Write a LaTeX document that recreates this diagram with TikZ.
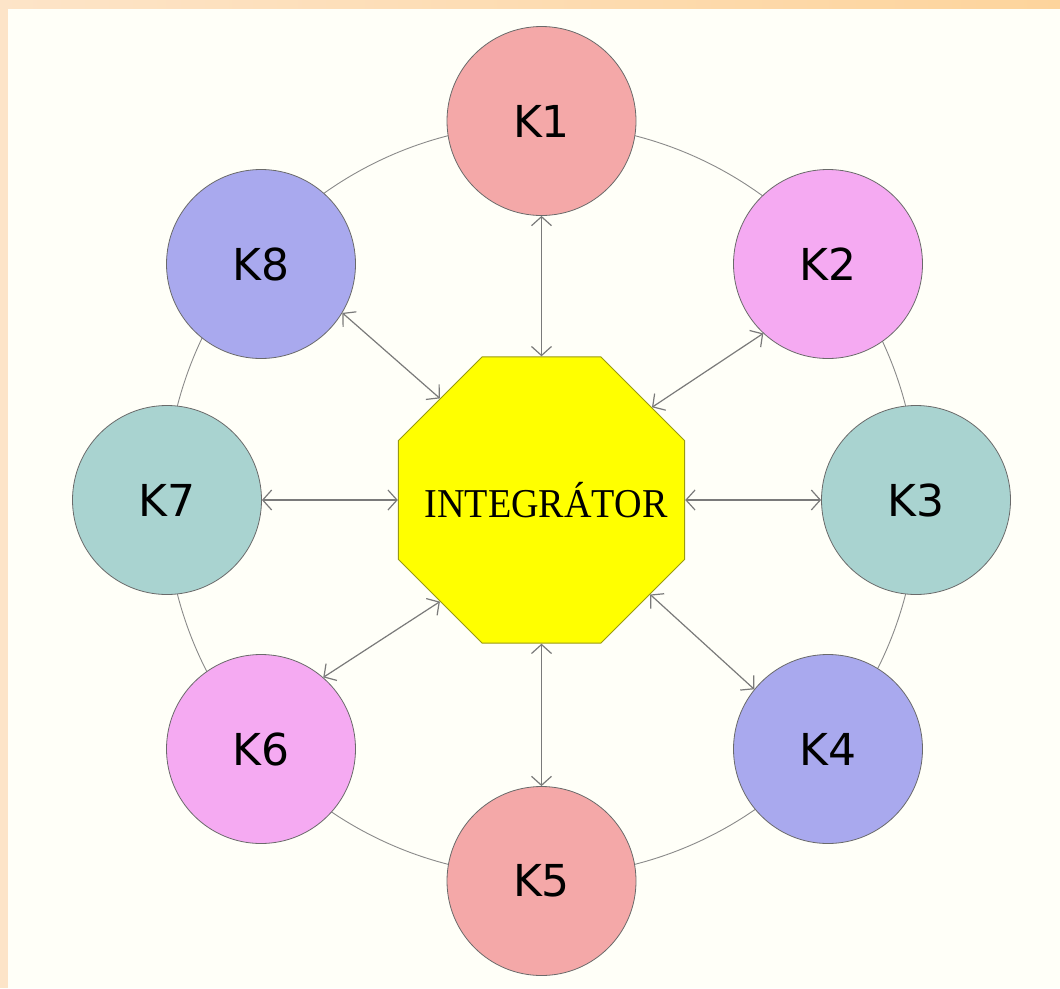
\documentclass[tikz,border=0pt]{standalone}
\usepackage{graphicx}
\usepackage{fontspec}
\setmainfont{DejaVu Sans}
\newfontfamily\kfont{DejaVu Sans}
\newfontfamily\intfont{Liberation Serif}
\usetikzlibrary{shapes.geometric,arrows.meta}
\definecolor{bgwhite}{HTML}{FFFFF8}
\definecolor{peachA}{HTML}{FDE4C8}
\definecolor{peachB}{HTML}{FDD49C}
\definecolor{kpink}{HTML}{F4A8A8}
\definecolor{kviolet}{HTML}{F5AAF2}
\definecolor{kteal}{HTML}{A9D3D0}
\definecolor{kblue}{HTML}{A9A9EE}
\definecolor{ringgray}{HTML}{8A8A8A}
\definecolor{edgegray}{HTML}{6A6A6A}
\definecolor{arrowgray}{HTML}{7A7A7A}
\definecolor{octyellow}{HTML}{FFFF00}
\definecolor{octedge}{HTML}{9A9A10}
\tikzset{
  kcirc/.style={circle, minimum size=189pt, inner sep=0pt, draw=edgegray, line width=0.8pt, font=\kfont\fontsize{44}{50}\selectfont},
  octo/.style={regular polygon, regular polygon sides=8, minimum size=310pt, inner sep=0pt, fill=octyellow, draw=octedge, line width=1pt},
  inttext/.style={inner sep=0pt, font=\intfont\fontsize{41}{46}\selectfont},
  link/.style={draw=arrowgray, line width=1.2pt, {Straight Barb[length=9pt,width=20pt]}-{Straight Barb[length=9pt,width=20pt]}},
  ring/.style={draw=ringgray, line width=0.9pt}
}
\begin{document}
\begin{tikzpicture}[x=1pt,y=-1pt]
\useasboundingbox (0,0) rectangle (1060,988);
\fill[bgwhite] (0,0) rectangle (1060,988);
\shade[left color=peachA, right color=peachB] (0,0) rectangle (1060,8);
\fill[peachA] (0,0) rectangle (8,988);
\coordinate (ctr) at (541.5,500);
\draw[ring] (ctr) circle (376);
\node[octo] (I) at (ctr) {};
\node[inttext] (T) at (546,500) {\scalebox{0.93}[1]{INTEGRÁTOR}};
\node[kcirc, fill=kpink] (K1) at (541.5,121) {K1};
\node[kcirc, fill=kviolet] (K2) at (828,264) {K2};
\node[kcirc, fill=kteal] (K3) at (916,500) {K3};
\node[kcirc, fill=kblue] (K4) at (828,749) {K4};
\node[kcirc, fill=kpink] (K5) at (541.5,881) {K5};
\node[kcirc, fill=kviolet] (K6) at (261,749) {K6};
\node[kcirc, fill=kteal] (K7) at (167,500) {K7};
\node[kcirc, fill=kblue] (K8) at (261,264) {K8};
\draw[link] (I.north) -- (K1.south);
\draw[link] (I.40.7) -- (K2.227.5);
\draw[link] (I.east) -- (K3.west);
\draw[link] (I.-41.3) -- (K4.141);
\draw[link] (I.south) -- (K5.north);
\draw[link] (I.225) -- (K6.49);
\draw[link] (I.west) -- (K7.east);
\draw[link] (I.135) -- (K8.329.7);
\end{tikzpicture}
\end{document}
